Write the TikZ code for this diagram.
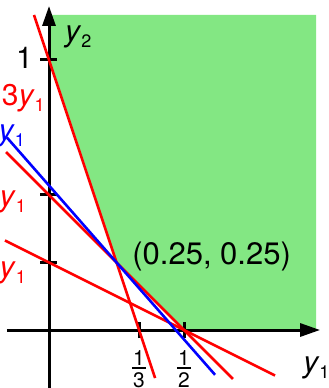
\documentclass[tikz,border=0pt]{standalone}
\usepackage{fontspec}
\setmainfont{TeX Gyre Heros}
\usetikzlibrary{arrows.meta}
\definecolor{feas}{RGB}{131,231,131}
\newcommand{\vy}[1]{\textit{y}\raisebox{-0.2em}{\fontsize{18}{18}\selectfont #1}}
\tikzset{
  lbl/.style={inner sep=0pt, font=\fontsize{30}{34}\selectfont},
  frc/.style={inner sep=0pt, font=\fontsize{21}{24}\selectfont},
  axis/.style={line width=3pt, -{Triangle[length=20pt,width=13pt]}},
  tick/.style={line width=3pt},
  cons/.style={line width=2.6pt, red},
  bcons/.style={line width=2.6pt, blue},
}
\begin{document}
\begin{tikzpicture}[x=270pt,y=270pt]
\useasboundingbox (-0.1815,-0.2148) rectangle (1.0333,1.2222);
% feasible region
\fill[feas] (0,1.1667) -- (0,1) -- (0.25,0.25) -- (0.5,0) -- (0.989,0) -- (0.989,1.1667) -- cycle;
% axes
\coordinate (xs) at (-0.156,0);
\coordinate (xe) at (1.004,0);
\coordinate (ys) at (0,-0.22);
\coordinate (ye) at (0,1.2);
\draw[axis] (xs) -- (xe);
\draw[axis] (ys) -- (ye);
% ticks
\draw[tick] (-0.033,1) -- (0.03,1);
\draw[tick] (-0.033,0.5) -- (0.03,0.5);
\draw[tick] (-0.033,0.25) -- (0.03,0.25);
\draw[tick] (1/3,-0.03) -- (1/3,0.028);
\draw[tick] (0.5,-0.03) -- (0.5,0.028);
% constraint lines
\draw[cons] (-0.0556,1.1667) -- (0.393,-0.178);
\draw[cons] (-0.159,0.659) -- (0.681,-0.181);
\draw[cons] (-0.163,0.3315) -- (0.837,-0.1685);
\draw[bcons] (-0.156,0.713) -- (0.615,-0.166);
% labels
\node[lbl, anchor=base east, red] (l1) at (-0.015,0.833) {3\vy{1}};
\node[lbl, anchor=base east, blue] (l2) at (-0.089,0.700) {\vy{1}};
\node[lbl, anchor=base east, red] (l3) at (-0.085,0.456) {\vy{1}};
\node[lbl, anchor=base east, red] (l4) at (-0.085,0.196) {\vy{1}};
\node[lbl, anchor=base west] (ylab) at (0.059,1.070) {\vy{2}};
\node[lbl, anchor=base east] (one) at (-0.059,0.970) {1};
\node[lbl, anchor=base west] (xlab) at (0.941,-0.159) {\vy{1}};
\node[lbl, anchor=base west, font=\fontsize{31}{35}\selectfont] (pt) at (0.308,0.244) {(0.25, 0.25)};
% fractions
\node[frc, anchor=base] (n1) at (1/3,-0.130) {1};
\node[frc, anchor=base] (d1) at (1/3,-0.213) {3};
\draw[line width=1.8pt] (0.307,-0.141) -- (0.360,-0.141);
\node[frc, anchor=base] (n2) at (0.5,-0.130) {1};
\node[frc, anchor=base] (d2) at (0.5,-0.213) {2};
\draw[line width=1.8pt] (0.474,-0.141) -- (0.527,-0.141);
\end{tikzpicture}
\end{document}
